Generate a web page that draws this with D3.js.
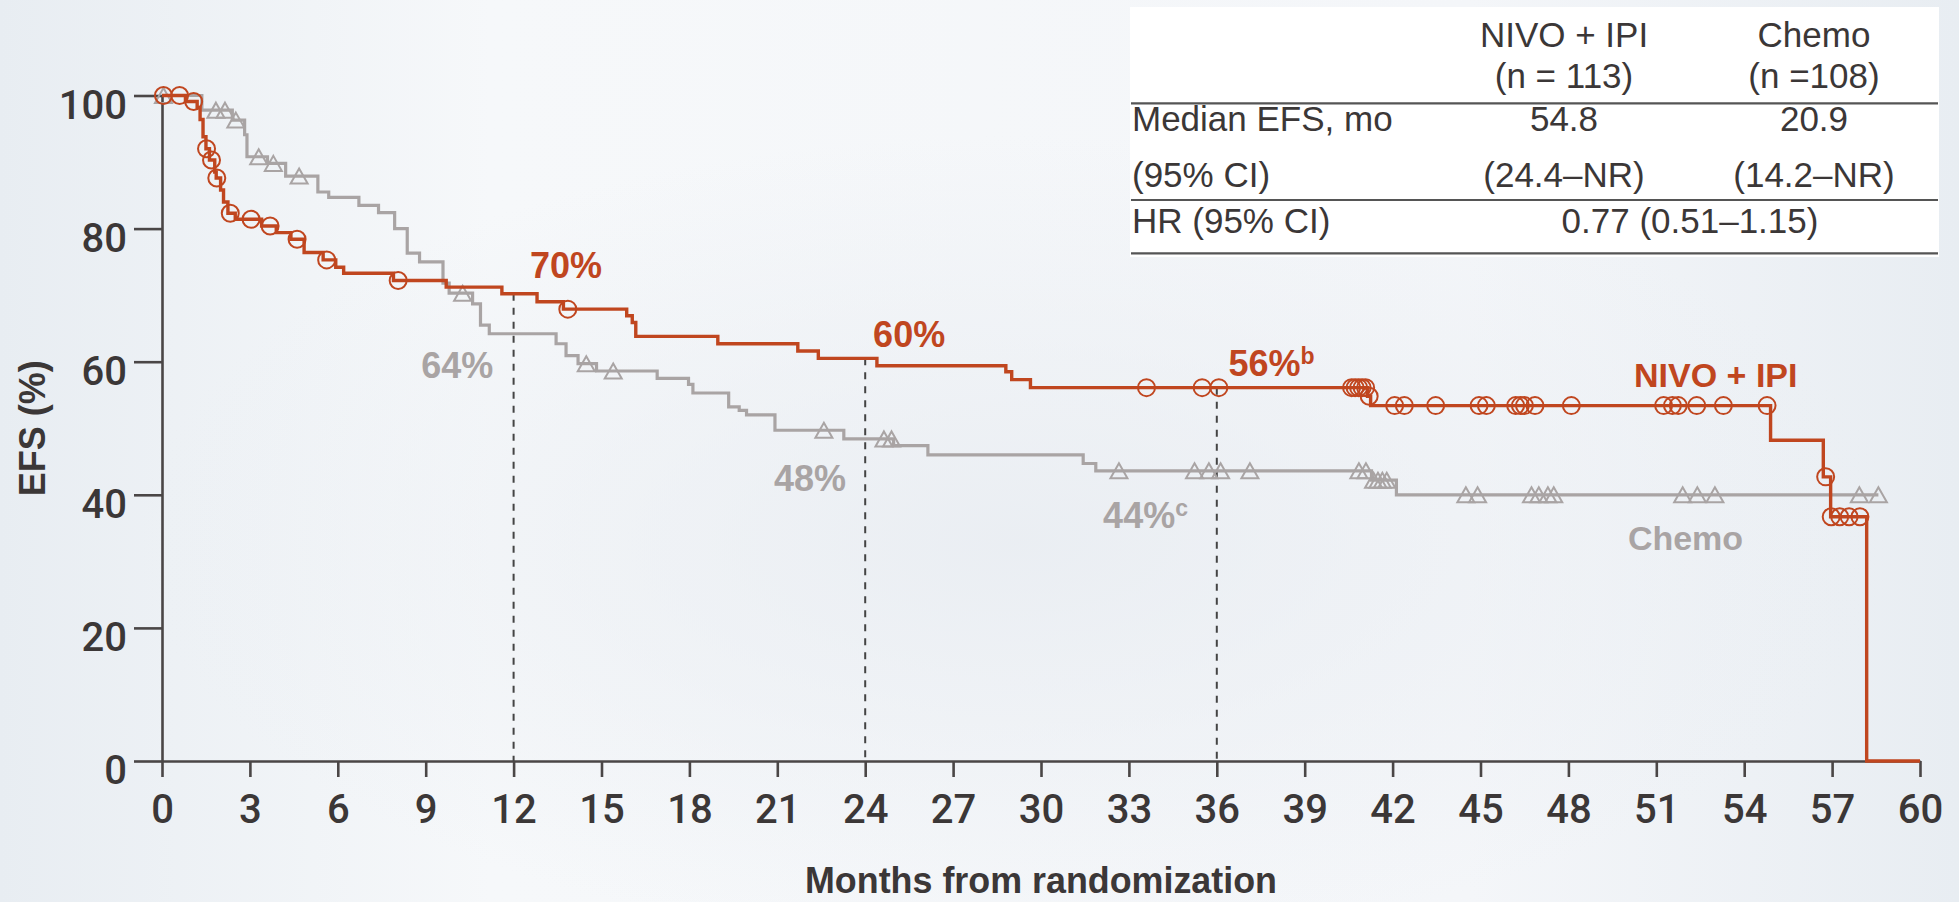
<!DOCTYPE html>
<html>
<head>
<meta charset="utf-8">
<script src="https://cdn.jsdelivr.net/npm/d3@7"></script>
<style>
  body { margin: 0; background: #fff; }
  svg { display: block; }
</style>
</head>
<body>
<svg id="vis" width="1959" height="902"></svg>
<script>
// ---- data ----
var xTicks = [0, 3, 6, 9, 12, 15, 18, 21, 24, 27, 30, 33, 36, 39, 42, 45, 48, 51, 54, 57, 60];
var yTicks = [0, 20, 40, 60, 80, 100];

// NIVO + IPI : event times (months) and EFS (%) after each step
var nivoTimes = [0.8, 1.2, 1.3, 1.4, 1.5, 1.62, 1.8, 1.85, 2.0, 2.1, 2.25, 2.5, 3.4, 3.9, 4.4, 4.85, 5.5, 5.93, 6.2, 7.9,
                 9.7, 11.6, 12.8, 13.7, 15.86, 16.05, 16.17, 18.97, 21.7, 22.4, 24.4, 28.8, 29.0, 29.64, 41.15, 41.25,
                 54.9, 56.7, 56.95, 58.18];
var nivoSurv  = [99.1, 98.2, 96.4, 93.8, 92.0, 90.3, 88.5, 87.6, 85.8, 84.0, 82.3, 81.4, 80.4, 79.4, 78.4, 76.4, 75.3, 74.2, 73.3, 72.2,
                 71.2, 70.2, 69.0, 67.9, 66.9, 65.9, 63.8, 62.7, 61.6, 60.5, 59.4, 58.5, 57.3, 56.1, 54.8, 53.4,
                 48.2, 42.7, 36.7, 0];
var nivoCensor = [0.05, 0.6, 1.08, 1.52, 1.69, 1.87, 2.33, 3.04, 3.69, 4.61, 5.62, 8.06, 13.85, 33.6, 35.5, 36.07,
                  40.6, 40.72, 40.84, 40.96, 41.08, 41.2, 42.07, 42.4, 43.47, 44.95, 45.2, 46.2, 46.36, 46.5, 46.86, 48.1,
                  51.25, 51.55, 51.75, 52.38, 53.29, 54.78, 56.78, 56.97, 57.26, 57.58, 57.95];
var nivoEnd = 60;

// Chemo
var chemoTimes = [1.36, 2.4, 2.82, 2.9, 3.6, 4.22, 5.32, 5.69, 6.72, 7.39, 7.94, 8.37, 8.79, 9.59, 9.8, 10.6, 10.87, 11.17,
                  13.45, 13.79, 14.2, 14.83, 16.9, 17.97, 18.12, 19.34, 19.7, 19.95, 20.92, 23.27, 24.97, 26.14,
                  31.44, 31.87, 41.28, 42.13];
var chemoSurv  = [97.8, 96.3, 94.1, 90.8, 89.8, 87.9, 85.5, 84.7, 83.5, 82.4, 80.0, 76.3, 75.0, 71.8, 70.3, 68.7, 65.5, 64.2,
                  62.7, 60.9, 59.7, 58.6, 57.5, 56.6, 55.3, 53.2, 52.7, 52.0, 49.7, 48.4, 47.4, 46.0,
                  44.7, 43.6, 42.2, 40.0];
var chemoCensor = [0.05, 1.84, 2.15, 2.52, 3.3, 3.8, 4.68, 10.26, 14.48, 15.4, 22.59, 24.64, 24.9, 32.66, 35.24, 35.73,
                   36.13, 37.13, 40.85, 41.09, 41.35, 41.5, 41.65, 41.8, 44.5, 44.9, 46.74, 46.99, 47.3, 47.5,
                   51.9, 52.4, 53.0, 57.93, 58.58];
var chemoEnd = 58.58;

// landmark months with dashed guide lines
var landmarks = [12, 24, 36];

// annotations (text, superscript, month, EFS, arm)
var annoText = ["70%", "60%", "56%", "64%", "48%", "44%", "NIVO + IPI", "Chemo"];
var annoSup  = ["", "", "b", "", "", "c", "", ""];
var annoT    = [12.56, 24.27, 36.4, 8.85, 20.89, 32.12, 50.24, 50.03];
var annoV    = [72.6, 62.2, 57.85, 57.6, 40.6, 35.06, 56.2, 31.7];
var annoArm  = ["nivo", "nivo", "nivo", "chemo", "chemo", "chemo", "nivo", "chemo"];

// summary table
var tableHead = [["NIVO + IPI", "(n = 113)"], ["Chemo", "(n =108)"]];
var medianEFS = ["54.8", "20.9"];
var medianCI  = ["(24.4\u2013NR)", "(14.2\u2013NR)"];
var hrText    = "0.77 (0.51\u20131.15)";
var rowLabels = [["Median EFS, mo", "(95% CI)"], ["HR (95% CI)"]];

var red = "#c0461f",
    grey = "#a9a4a4",
    ink = "#3b3737";

var svg = d3.select("#vis"),
    width = +svg.attr("width"),
    height = +svg.attr("height");

// background
var defs = svg.append("defs");
var bg = defs.append("linearGradient").attr("id", "bgLin")
    .attr("x1", "0%").attr("y1", "0%").attr("x2", "100%").attr("y2", "0%");
bg.append("stop").attr("offset", "0%").attr("stop-color", "#e8edf2");
bg.append("stop").attr("offset", "25%").attr("stop-color", "#f6f8fa");
bg.append("stop").attr("offset", "75%").attr("stop-color", "#f4f6f9");
bg.append("stop").attr("offset", "100%").attr("stop-color", "#e8edf2");
var spot = defs.append("radialGradient").attr("id", "bgSpot")
    .attr("cx", 0.52).attr("cy", 0.6).attr("r", 0.45);
spot.append("stop").attr("offset", "0%").attr("stop-color", "#e9edf2").attr("stop-opacity", 0.9);
spot.append("stop").attr("offset", "100%").attr("stop-color", "#e9edf2").attr("stop-opacity", 0);

svg.append("rect").attr("width", width).attr("height", height).attr("fill", "url(#bgLin)");
svg.append("rect").attr("width", width).attr("height", height).attr("fill", "url(#bgSpot)");

var x = d3.scaleLinear().domain([0, 60]).range([162, 1920]);
var y = d3.scaleLinear().domain([0, 100]).range([761, 95.5]);

function stepPoints(times, surv, end) {
  var pts = [[0, 100]];
  for (var i = 0; i < times.length; i++) pts.push([times[i], surv[i]]);
  pts.push([end, surv[surv.length - 1]]);
  return pts;
}

function survAt(times, surv, t) {
  var s = 100;
  for (var i = 0; i < times.length; i++) {
    if (times[i] <= t) s = surv[i];
  }
  return s;
}

var line = d3.line()
    .x(function(d) { return x(d[0]); })
    .y(function(d) { return y(d[1]); })
    .curve(d3.curveStepAfter);

// ---- table ----
var tbl = svg.append("g").attr("class", "table")
    .style("font-family", "'Liberation Sans', Arial, sans-serif")
    .style("font-size", "35px")
    .attr("fill", ink);

tbl.append("rect").attr("x", 1130).attr("y", 7).attr("width", 809).attr("height", 250).attr("fill", "#ffffff");

var colX = [1564, 1814];
tableHead.forEach(function(h, i) {
  tbl.append("text").attr("x", colX[i]).attr("y", 47).attr("text-anchor", "middle").text(h[0]);
  tbl.append("text").attr("x", colX[i]).attr("y", 88).attr("text-anchor", "middle").text(h[1]);
  tbl.append("text").attr("x", colX[i]).attr("y", 131).attr("text-anchor", "middle").text(medianEFS[i]);
  tbl.append("text").attr("x", colX[i]).attr("y", 187).attr("text-anchor", "middle").text(medianCI[i]);
});
tbl.append("text").attr("x", 1132).attr("y", 131).text(rowLabels[0][0]);
tbl.append("text").attr("x", 1132).attr("y", 187).text(rowLabels[0][1]);
tbl.append("text").attr("x", 1132).attr("y", 233).text(rowLabels[1][0]);
tbl.append("text").attr("x", 1690).attr("y", 233).attr("text-anchor", "middle").text(hrText);

[103.3, 200, 253.3].forEach(function(ry) {
  tbl.append("line").attr("x1", 1131).attr("x2", 1938).attr("y1", ry).attr("y2", ry)
      .attr("stroke", "#555").attr("stroke-width", 2.2);
});

// ---- axes ----
var xAxis = svg.append("g")
    .attr("transform", "translate(0," + y(0) + ")")
    .call(d3.axisBottom(x).tickValues(xTicks).tickSize(16).tickSizeOuter(0));
xAxis.selectAll("text")
    .attr("y", 62).attr("dy", null);

var yAxis = svg.append("g")
    .attr("transform", "translate(" + x(0) + ",0)")
    .call(d3.axisLeft(y).tickValues(yTicks).tickSize(28).tickSizeOuter(0).tickPadding(7));
yAxis.selectAll("text").attr("dy", "22.5px");

svg.selectAll(".domain, .tick line").attr("stroke", "#4a4646").attr("stroke-width", 2.6);
svg.selectAll(".tick text")
    .attr("fill", ink)
    .style("font-family", "Roboto, 'Liberation Sans', sans-serif")
    .style("font-weight", 500)
    .style("font-size", "40px");

svg.append("text")
    .attr("transform", "translate(45," + y(50) + ") rotate(-90)")
    .attr("text-anchor", "middle")
    .attr("fill", ink)
    .style("font-family", "'Liberation Sans', Arial, sans-serif")
    .style("font-weight", "bold")
    .style("font-size", "36px")
    .text("EFS (%)");

svg.append("text")
    .attr("x", (x(0) + x(60)) / 2)
    .attr("y", 893)
    .attr("text-anchor", "middle")
    .attr("fill", ink)
    .attr("textLength", 472)
    .attr("lengthAdjust", "spacingAndGlyphs")
    .style("font-family", "'Liberation Sans', Arial, sans-serif")
    .style("font-weight", "bold")
    .style("font-size", "37px")
    .text("Months from randomization");

// ---- landmark guides ----
svg.append("g").selectAll("line")
    .data(landmarks)
    .enter().append("line")
      .attr("x1", function(d) { return x(d); })
      .attr("x2", function(d) { return x(d); })
      .attr("y1", function(d) { return y(survAt(nivoTimes, nivoSurv, d)); })
      .attr("y2", y(0))
      .attr("stroke", "#444")
      .attr("stroke-width", 2)
      .attr("stroke-dasharray", "7,7");

// ---- curves ----
svg.append("path")
    .datum(stepPoints(chemoTimes, chemoSurv, chemoEnd))
    .attr("d", line)
    .attr("fill", "none")
    .attr("stroke", grey)
    .attr("stroke-width", 3.2);

// triangle censor marks
svg.append("g").selectAll("path")
    .data(chemoCensor)
    .enter().append("path")
      .attr("transform", function(d) {
        return "translate(" + x(d) + "," + y(survAt(chemoTimes, chemoSurv, d)) + ")";
      })
      .attr("d", "M0,-7.5L8.5,7.5L-8.5,7.5Z")
      .attr("fill", "none")
      .attr("stroke", grey)
      .attr("stroke-width", 2);

svg.append("path")
    .datum(stepPoints(nivoTimes, nivoSurv, nivoEnd))
    .attr("d", line)
    .attr("fill", "none")
    .attr("stroke", red)
    .attr("stroke-width", 3.4);

svg.append("g").selectAll("circle")
    .data(nivoCensor)
    .enter().append("circle")
      .attr("cx", function(d) { return x(d); })
      .attr("cy", function(d) { return y(survAt(nivoTimes, nivoSurv, d)); })
      .attr("r", 8.5)
      .attr("fill", "none")
      .attr("stroke", red)
      .attr("stroke-width", 2);

// ---- annotations ----
var anno = svg.append("g").selectAll("text")
    .data(annoText)
    .enter().append("text")
      .attr("x", function(d, i) { return x(annoT[i]); })
      .attr("y", function(d, i) { return y(annoV[i]); })
      .attr("fill", function(d, i) { return annoArm[i] == "nivo" ? red : grey; })
      .style("font-family", "'Liberation Sans', Arial, sans-serif")
      .style("font-weight", "bold")
      .style("font-size", function(d, i) { return i > 5 ? "34px" : "36px"; })
      .text(function(d) { return d; });

anno.filter(function(d, i) { return annoSup[i] != ""; })
    .append("tspan")
      .attr("dy", -12)
      .style("font-size", "23px")
      .text(function(d) { return annoSup[annoText.indexOf(d)]; });
</script>
</body>
</html>
